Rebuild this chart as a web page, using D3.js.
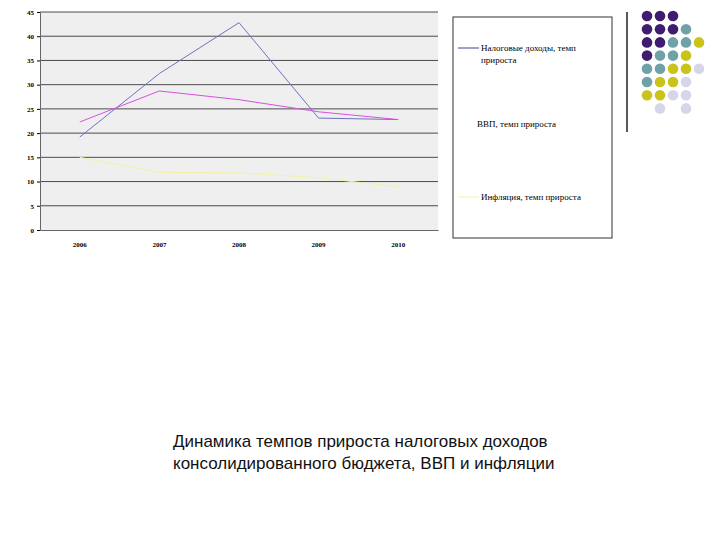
<!DOCTYPE html><html><head><meta charset="utf-8"><script src="https://cdn.jsdelivr.net/npm/d3@7"></script>
<style>body{margin:0;background:#fff}</style></head><body><svg id="c" width="720" height="540"></svg><script>
const years=["2006","2007","2008","2009","2010"];
const taxGrowth=[19.2,32.3,42.8,23.1,22.8];
const gdpGrowth=[22.3,28.7,26.9,24.4,22.8];
const inflation=[15.0,11.9,11.8,10.8,8.9];
const yTicks=[0,5,10,15,20,25,30,35,40,45];
const seriesNames=["Налоговые доходы, темп прироста","ВВП, темп прироста","Инфляция, темп прироста"];
const dotRows=["PPP","PPPT","PPTTY","PTTY","TTYYL","TYYL","YYLL"," L L"];
const svg=d3.select("#c");
const L=40,R=438,T=12,B=230;
const x=d3.scaleBand().domain(years).range([L,R]);
const y=d3.scaleLinear().domain([0,45]).range([B,T]);
svg.append("rect").attr("x",L).attr("y",T).attr("width",R-L).attr("height",B-T).attr("fill","#efefef");
svg.append("g").selectAll("line").data(yTicks.slice(1)).join("line").attr("x1",L).attr("x2",R).attr("y1",d=>y(d)).attr("y2",d=>y(d)).attr("stroke","#222").attr("stroke-width",0.8);
svg.append("g").attr("transform",`translate(${L},0)`).call(d3.axisLeft(y).tickValues(yTicks).tickSize(3)).call(g=>{g.selectAll("text").attr("font-family","Liberation Serif").attr("font-weight","bold").attr("font-size",7);g.select(".domain").attr("stroke","#666");});
svg.append("g").attr("transform",`translate(0,${B})`).call(d3.axisBottom(x).tickSize(0).tickPadding(12)).call(g=>{g.selectAll("text").attr("font-family","Liberation Serif").attr("font-weight","bold").attr("font-size",7);g.select(".domain").attr("stroke","#666");});
const line=d3.line().x((d,i)=>x(years[i])+x.bandwidth()/2).y(d=>y(d));
[[taxGrowth,"#7070c0"],[gdpGrowth,"#d850e0"],[inflation,"#f2f2a6"]].forEach(([d,c])=>svg.append("path").attr("d",line(d)).attr("fill","none").attr("stroke",c).attr("stroke-width",1));
svg.append("rect").attr("x",453).attr("y",17).attr("width",159).attr("height",221).attr("fill","#fff").attr("stroke","#333");
const leg=[[48,"#4040a0"],[124,null],[197,"#f2f2a6"]];
leg.forEach(([ly,c],i)=>{if(c)svg.append("line").attr("x1",458).attr("x2",479).attr("y1",ly).attr("y2",ly).attr("stroke",c);
 const t=svg.append("text").attr("x",i==1?477:481).attr("y",ly+3).attr("font-family","Liberation Serif").attr("font-size",9);
 if(i==0){t.append("tspan").text("Налоговые доходы, темп");t.append("tspan").attr("x",481).attr("dy",12).text("прироста");}else t.text(seriesNames[i]);});
svg.append("line").attr("x1",627).attr("x2",627).attr("y1",12).attr("y2",132).attr("stroke","#222").attr("stroke-width",1.5);
const col={P:"#3f1c70",T:"#6fa2a8",Y:"#c9c31c",L:"#d6d6ea"};
dotRows.forEach((r,ri)=>[...r].forEach((ch,ci)=>{if(col[ch])svg.append("circle").attr("cx",647+ci*13).attr("cy",16+ri*13.2).attr("r",5.3).attr("fill",col[ch]);}));
const tt=svg.append("text").attr("font-family","Liberation Sans").attr("font-size",17).attr("fill","#111");
tt.append("tspan").attr("x",173).attr("y",447).text("Динамика темпов прироста налоговых доходов");
tt.append("tspan").attr("x",173).attr("y",469).text("консолидированного бюджета, ВВП и инфляции");
</script></body></html>
